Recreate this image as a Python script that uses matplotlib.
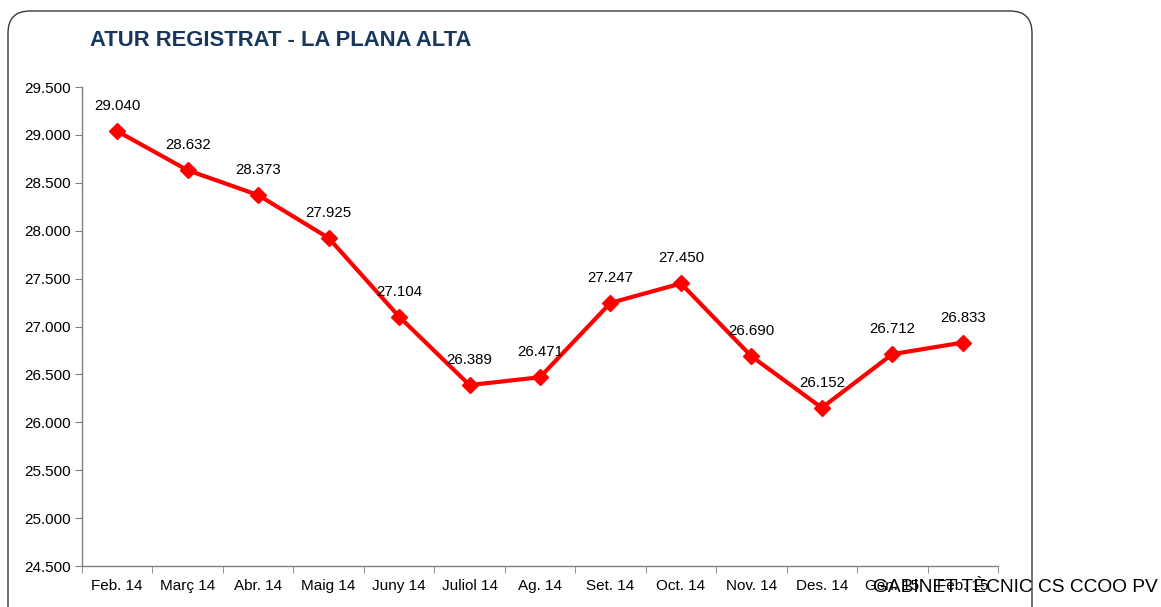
import matplotlib
matplotlib.use('Agg')
import matplotlib.pyplot as plt
import matplotlib.ticker as mticker
from matplotlib.patches import FancyBboxPatch
from matplotlib.transforms import IdentityTransform

months = ['Feb. 14', 'Març 14', 'Abr. 14', 'Maig 14', 'Juny 14', 'Juliol 14', 'Ag. 14',
          'Set. 14', 'Oct. 14', 'Nov. 14', 'Des. 14', 'Gen. 15', 'Feb. 15']
atur = [29040, 28632, 28373, 27925, 27104, 26389, 26471, 27247, 27450, 26690, 26152, 26712, 26833]

plt.rcParams['font.family'] = ['Liberation Sans', 'DejaVu Sans']

def fmt_miles(v, pos=None):
    # thousands separator with a dot, catalan style
    return '{:,.0f}'.format(v).replace(',', '.')

fig = plt.figure(figsize=(11.61, 6.07), dpi=100)

# rounded frame around the chart (pixel coords)
frame = FancyBboxPatch((8, -40), 1024, 596 + 40, boxstyle='round,pad=0,rounding_size=22',
                       transform=IdentityTransform(), facecolor='none',
                       edgecolor='#3a3a3a', linewidth=1.0)
fig.patches.append(frame)

ax = fig.add_axes([0.0706, 0.0675, 0.789, 0.789])
x = list(range(len(months)))
ax.plot(x, atur, color='#ff0000', linewidth=3, marker='D', markersize=8.5, zorder=3)
for xi, v in zip(x, atur):
    ax.annotate(fmt_miles(v), (xi, v), xytext=(0, 18), textcoords='offset points',
                ha='center', va='center', fontsize=10.8, color='black')

ax.set_xlim(-0.5, len(months) - 0.5)
ax.set_ylim(24500, 29500)
ax.yaxis.set_major_locator(mticker.MultipleLocator(500))
ax.yaxis.set_major_formatter(mticker.FuncFormatter(fmt_miles))

ax.set_xticks(x)
ax.set_xticklabels(months, fontsize=11)
ax.set_xticks([i - 0.5 for i in range(len(months) + 1)], minor=True)
ax.tick_params(axis='x', which='major', length=0, pad=9)
ax.tick_params(axis='x', which='minor', length=5, color='#808080', direction='out')
ax.tick_params(axis='y', labelsize=11, length=5, color='#808080', pad=3)

for s in ['top', 'right']:
    ax.spines[s].set_visible(False)
for s in ['left', 'bottom']:
    ax.spines[s].set_color('#808080')
    ax.spines[s].set_linewidth(1.0)

fig.text(90 / 1161, 1 - 40 / 607, 'ATUR REGISTRAT - LA PLANA ALTA', fontsize=15.8,
         fontweight='bold', color='#17375e', ha='left', va='center')
fig.text(1158 / 1161, 1 - 588 / 607, 'GABINET TÈCNIC CS CCOO PV', fontsize=13.8,
         color='black', ha='right', va='center')

fig.savefig('out.png', dpi=100)
